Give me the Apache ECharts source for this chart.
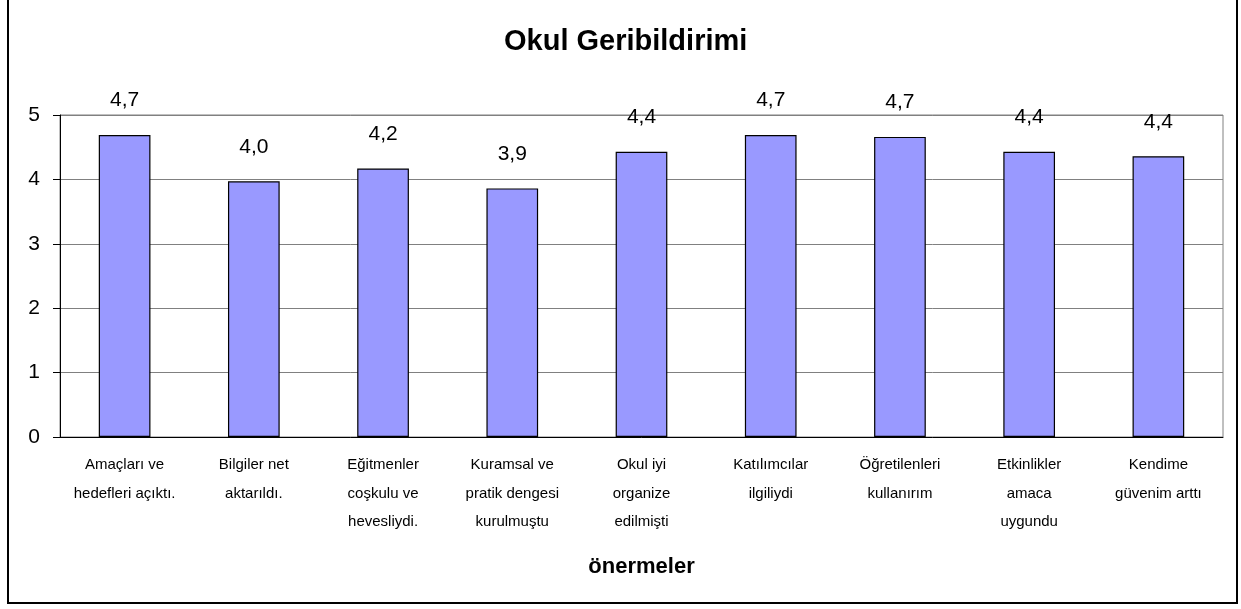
<!DOCTYPE html>
<html>
<head>
<meta charset="utf-8">
<script src="https://cdn.jsdelivr.net/npm/echarts@6/dist/echarts.min.js"></script>
<style>
  html, body { margin: 0; padding: 0; background: #fff; }
  #chart { width: 1241px; height: 609px; }
</style>
</head>
<body>
<div id="chart"></div>
<script>
// önermeler (x ekseni), ortalama puanlar
const categories = [
  'Amaçları ve\nhedefleri açıktı.',
  'Bilgiler net\naktarıldı.',
  'Eğitmenler\ncoşkulu ve\nhevesliydi.',
  'Kuramsal ve\npratik dengesi\nkurulmuştu',
  'Okul iyi\norganize\nedilmişti',
  'Katılımcılar\nilgiliydi',
  'Öğretilenleri\nkullanırım',
  'Etkinlikler\namaca\nuygundu',
  'Kendime\ngüvenim arttı'
];
const scores = [4.69, 3.97, 4.17, 3.86, 4.43, 4.69, 4.66, 4.43, 4.36];
const yTicks = [0, 1, 2, 3, 4, 5];

const FONT = '"Liberation Sans", Arial, sans-serif';
const chart = echarts.init(document.getElementById('chart'));

chart.setOption({
  backgroundColor: '#fff',
  animation: false,
  title: {
    text: 'Okul Geribildirimi',
    left: 499, top: 22, padding: 5,
    textStyle: { fontFamily: FONT, fontSize: 29, fontWeight: 'bold', color: '#000' }
  },
  grid: {
    left: 60, right: 18, top: 115, bottom: 172,
    show: true, borderColor: '#808080', borderWidth: 1, backgroundColor: '#fff'
  },
  xAxis: {
    type: 'category', data: categories,
    name: 'önermeler', nameLocation: 'middle', nameGap: 119,
    nameTextStyle: { fontFamily: FONT, fontSize: 22, fontWeight: 'bold', color: '#000' },
    axisLine: { lineStyle: { color: '#000', width: 1 } },
    axisTick: { length: 6, lineStyle: { color: '#000' } },
    axisLabel: { interval: 0, margin: 14, fontFamily: FONT, fontSize: 15, lineHeight: 28.5, color: '#000' }
  },
  yAxis: {
    type: 'value', min: yTicks[0], max: yTicks[yTicks.length - 1], interval: 1,
    axisLine: { show: true, lineStyle: { color: '#000', width: 1 } },
    axisTick: { show: true, length: 7, lineStyle: { color: '#000' } },
    axisLabel: { margin: 20, fontFamily: FONT, fontSize: 21, color: '#000' },
    splitLine: { lineStyle: { color: '#808080', width: 1 } }
  },
  series: [{
    type: 'bar', data: scores, barWidth: '40%',
    itemStyle: { color: '#9999FF', borderColor: '#000', borderWidth: 1.2 },
    label: {
      show: true, position: 'top', distance: 24,
      fontFamily: FONT, fontSize: 21, color: '#000',
      formatter: p => p.value.toFixed(1).replace('.', ',')
    }
  }],
  graphic: [{
    type: 'rect', silent: true,
    shape: { x: 8, y: -10, width: 1229, height: 613 },
    style: { fill: null, stroke: '#000', lineWidth: 2 }
  }]
});
</script>
</body>
</html>
